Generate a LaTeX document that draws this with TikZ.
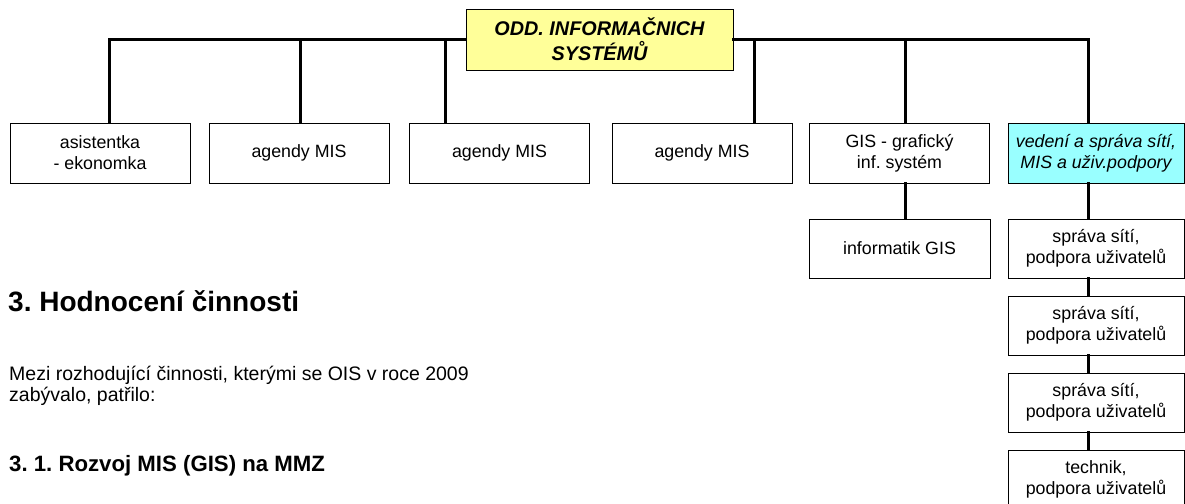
\documentclass[tikz,border=0pt]{standalone}
\usepackage{fontspec}
\setmainfont{Liberation Sans}
\frenchspacing
\definecolor{headyellow}{HTML}{FFFF99}
\definecolor{leadcyan}{HTML}{99FFFF}

\begin{document}
\begin{tikzpicture}[x=1pt,y=-1pt,
  unit/.style={draw,line width=0.9pt,minimum width=180pt,minimum height=60pt,inner sep=0pt,align=center,font=\fontsize{17.8}{21}\selectfont},
  link/.style={line width=3pt,line cap=rect},
  txt/.style={anchor=base west,inner sep=0pt}]
  \useasboundingbox (0,0) rectangle (1185,503);
  \node[unit,fill=headyellow,minimum width=267pt,minimum height=61pt,font=\fontsize{19.8}{25}\selectfont\bfseries\itshape] (head) at (599.5,39.5) {ODD. INFORMAČNICH\\SYSTÉMŮ};
  \foreach \nm/\cx/\tap/\txt in {asist/100/109/{asistentka\\- ekonomka},mis1/299/300/{agendy MIS},mis2/499.5/445/{agendy MIS},mis3/702/754/{agendy MIS},gis/899.5/905/{GIS - grafický\\inf. systém}}{
    \node[unit] (\nm) at (\cx,153) {\txt};
    \coordinate (tap-\nm) at (\tap,40);
    \draw[link] (tap-\nm) -- (tap-\nm |- \nm.north);
  }
  \node[unit,fill=leadcyan,minimum width=176pt,font=\fontsize{17.8}{21}\selectfont\itshape] (lead) at (1096,153) {vedení a správa sítí,\\MIS a uživ.podpory};
  \coordinate (tap-lead) at (1088,40);
  \draw[link] (tap-lead) -- (tap-lead |- lead.north);
  \draw[link] (tap-asist) -- (tap-asist -| head.west);
  \draw[link] (head.east |- tap-lead) -- (tap-lead);

  \node[unit,minimum width=181pt,minimum height=59pt] (infgis) at (899.5,248.5) {informatik GIS};
  \draw[link] (tap-gis |- gis.south) -- (tap-gis |- infgis.north);

  \foreach \i/\txt in {1/{správa sítí,\\podpora uživatelů},2/{správa sítí,\\podpora uživatelů},3/{správa sítí,\\podpora uživatelů},4/{technik,\\podpora uživatelů}}{
    \node[unit,minimum width=176pt,minimum height=59pt] (net\i) at (1096,171.5+77*\i) {\txt};
  }
  \draw[link] (tap-lead |- lead.south) -- (tap-lead |- net1.north);
  \foreach \a/\b in {1/2,2/3,3/4}{
    \draw[link] (tap-lead |- net\a.south) -- (tap-lead |- net\b.north);
  }

  \node[txt,font=\fontsize{28}{32}\selectfont\bfseries] (sect) at (8,311) {3. Hodnocení činnosti};
  \node[txt,font=\fontsize{19.5}{21.5}\selectfont] (intro1) at (9,380) {Mezi rozhodující činnosti, kterými se OIS v roce 2009};
  \node[txt,font=\fontsize{19.5}{21.5}\selectfont] (intro2) at (9,401.5) {zabývalo, patřilo:};
  \node[txt,font=\fontsize{22.2}{26}\selectfont\bfseries] (subsect) at (9,471) {3. 1. Rozvoj MIS (GIS) na MMZ};
\end{tikzpicture}
\end{document}
